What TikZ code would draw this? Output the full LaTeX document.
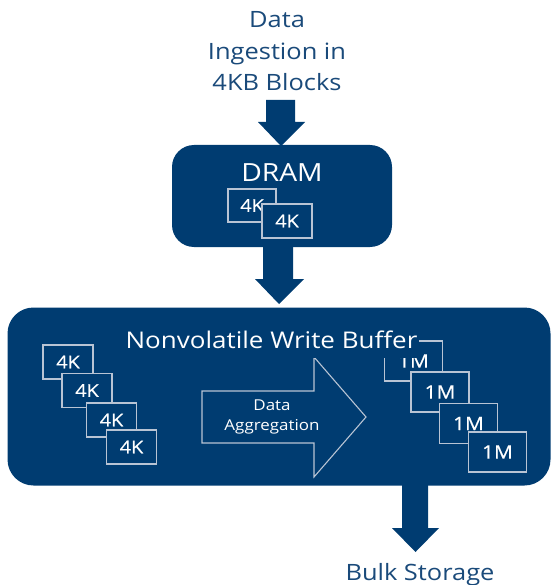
\documentclass[tikz,border=0pt]{standalone}
\usepackage{fontspec}
\setmainfont{Open Sans}[FakeStretch=1.13]
\definecolor{navy}{HTML}{003C71}
\definecolor{labelblue}{HTML}{1A4A7A}
\definecolor{edge}{HTML}{B9C4D4}
\begin{document}
\begin{tikzpicture}[x=1pt,y=-1pt,
  panel/.style={fill=navy, rounded corners=22pt, inner sep=0pt},
  kblock/.style={draw=edge, line width=1.1pt, fill=navy, minimum width=50pt,
    minimum height=34pt, inner sep=0pt, text=white,
    font=\fontsize{17.5}{17.5}\selectfont\addfontfeature{FakeBold=0.6}},
  mblock/.style={kblock, minimum width=58pt, minimum height=40pt,
    font=\fontsize{18.5}{18.5}\selectfont\addfontfeature{FakeBold=0.6}},
  outer/.style={text=labelblue, font=\fontsize{22.5}{31.5}\selectfont, align=center},
  blockarrow/.style={fill=navy}]
\useasboundingbox (0,0) rectangle (551,585);

% incoming data
\node[outer, anchor=base] (ingest) at (277,91) {Data\\Ingestion in\\4KB Blocks};
\fill[blockarrow] (266,100) -- (295,100) -- (295,122) -- (305,122) -- (281,146)
  -- (258,122) -- (266,122) -- cycle;

% DRAM stage
\node[panel, minimum width=220pt, minimum height=102pt] (dram) at (282,196) {};
\node[anchor=base, text=white, font=\fontsize{25}{25}\selectfont] (dramlabel) at (282,182) {DRAM};
\node[kblock, minimum width=48pt, minimum height=33pt] (d1) at (252,205.5) {4K};
\node[kblock, minimum width=50pt, minimum height=34pt] (d2) at (287,221) {4K};

% DRAM -> buffer
\fill[blockarrow] (263,240) -- (293,240) -- (293,279) -- (304,279) -- (279,304)
  -- (255,279) -- (263,279) -- cycle;

% buffer -> bulk storage
\fill[blockarrow] (402,480) -- (428,480) -- (428,528) -- (439,528) -- (415.5,552)
  -- (392,528) -- (402,528) -- cycle;
\node[outer, anchor=base] (bulk) at (420,580) {Bulk Storage};

% nonvolatile write buffer
\node[panel, rounded corners=26pt, minimum width=543pt, minimum height=178pt] (buffer) at (279,396.5) {};

\node[kblock] (k1) at (68,362) {4K};
\node[kblock] (k2) at (87,390.5) {4K};
\node[kblock] (k3) at (111.5,420) {4K};
\node[kblock] (k4) at (131.5,447) {4K};

\draw[draw=edge, line width=1.1pt, fill=navy] (202,391) -- (314,391) -- (314,357)
  -- (366,417) -- (314,477) -- (314,443) -- (202,443) -- cycle;
\node[text=white, font=\fontsize{15}{20}\selectfont, align=center] (agg) at (272,417) {Data\\Aggregation};

\node[mblock] (m1) at (413.5,361) {1M};
\node[mblock] (m2) at (440,392) {1M};
\node[mblock] (m3) at (468.5,423.5) {1M};
\node[mblock] (m4) at (497.5,452) {1M};

% the title band is filled so it hides the top of the first 1M block
\node[anchor=base, fill=navy, text=white, font=\fontsize{23}{23}\selectfont,
  inner xsep=2pt, inner ysep=0pt, text height=22pt, text depth=9.5pt] (title) at (271.5,348)
  {Nonvolatile Write Buffer};
\end{tikzpicture}
\end{document}
